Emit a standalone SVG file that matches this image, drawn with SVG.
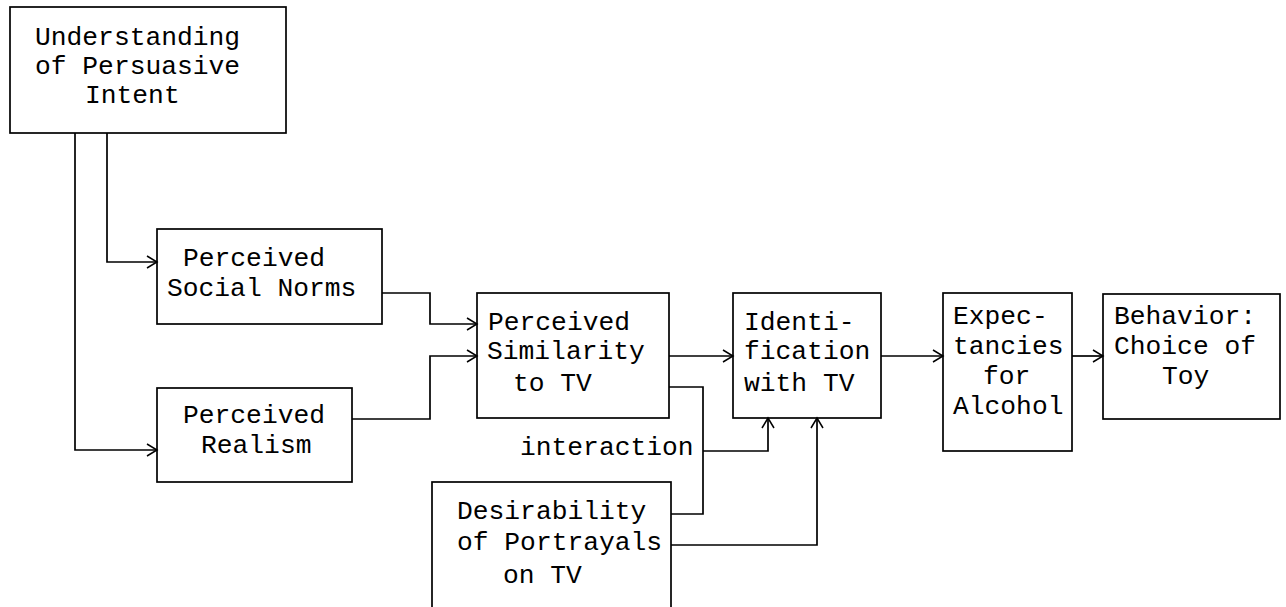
<svg xmlns="http://www.w3.org/2000/svg" width="1286" height="607" viewBox="0 0 1286 607">
<style>
.box{fill:none;stroke:#000;stroke-width:1.7}
.t{font-family:"Liberation Mono","DejaVu Sans Mono",monospace;font-size:26.3px;fill:#000}
.c{fill:none;stroke:#000;stroke-width:1.7}
</style>
<defs>
<marker id="ah" markerUnits="userSpaceOnUse" markerWidth="16" markerHeight="16" refX="12" refY="8" orient="auto">
<path d="M2,2 L12,8 L2,14" fill="none" stroke="#000" stroke-width="1.5"/>
</marker>
</defs>
<rect width="1286" height="607" fill="#fff"/>
<g id="understanding">
<rect class="box" x="10" y="7" width="276" height="126"/>
<text class="t" x="35" y="45">Understanding</text>
<text class="t" x="35" y="74">of Persuasive</text>
<text class="t" x="85" y="103">Intent</text>
</g>
<g id="social-norms">
<rect class="box" x="157" y="229" width="225" height="95"/>
<text class="t" x="183" y="266">Perceived</text>
<text class="t" x="167" y="296">Social Norms</text>
</g>
<g id="realism">
<rect class="box" x="157" y="388" width="195" height="94"/>
<text class="t" x="183" y="423">Perceived</text>
<text class="t" x="201" y="453">Realism</text>
</g>
<g id="similarity">
<rect class="box" x="477" y="293" width="192" height="125"/>
<text class="t" x="488" y="330">Perceived</text>
<text class="t" x="487" y="359">Similarity</text>
<text class="t" x="513" y="391">to TV</text>
</g>
<g id="identification">
<rect class="box" x="733" y="293" width="148" height="125"/>
<text class="t" x="744" y="330">Identi-</text>
<text class="t" x="744" y="359">fication</text>
<text class="t" x="744" y="391">with TV</text>
</g>
<g id="expectancies">
<rect class="box" x="943" y="293" width="129" height="158"/>
<text class="t" x="953" y="324">Expec-</text>
<text class="t" x="953" y="354">tancies</text>
<text class="t" x="983" y="384">for</text>
<text class="t" x="953" y="414">Alcohol</text>
</g>
<g id="behavior">
<rect class="box" x="1103" y="294" width="177" height="125"/>
<text class="t" x="1114" y="324">Behavior:</text>
<text class="t" x="1114" y="354">Choice of</text>
<text class="t" x="1162" y="384">Toy</text>
</g>
<g id="desirability">
<rect class="box" x="432" y="482" width="239" height="140"/>
<text class="t" x="457" y="519">Desirability</text>
<text class="t" x="457" y="550">of Portrayals</text>
<text class="t" x="503" y="583">on TV</text>
</g>
<g id="connectors">
<path class="c" d="M75,133 V450 H157" marker-end="url(#ah)"/>
<path class="c" d="M107,133 V262 H157" marker-end="url(#ah)"/>
<path class="c" d="M382,293 H430 V324 H477" marker-end="url(#ah)"/>
<path class="c" d="M352,419 H430 V356 H477" marker-end="url(#ah)"/>
<path class="c" d="M669,356 H733" marker-end="url(#ah)"/>
<path class="c" d="M669,387 H703 V514 H671"/>
<path class="c" d="M703,451 H768 V418" marker-end="url(#ah)"/>
<path class="c" d="M671,545 H817 V418" marker-end="url(#ah)"/>
<path class="c" d="M881,356 H943" marker-end="url(#ah)"/>
<path class="c" d="M1072,356 H1103" marker-end="url(#ah)"/>
<text class="t" x="520" y="455">interaction</text>
</g>
</svg>
